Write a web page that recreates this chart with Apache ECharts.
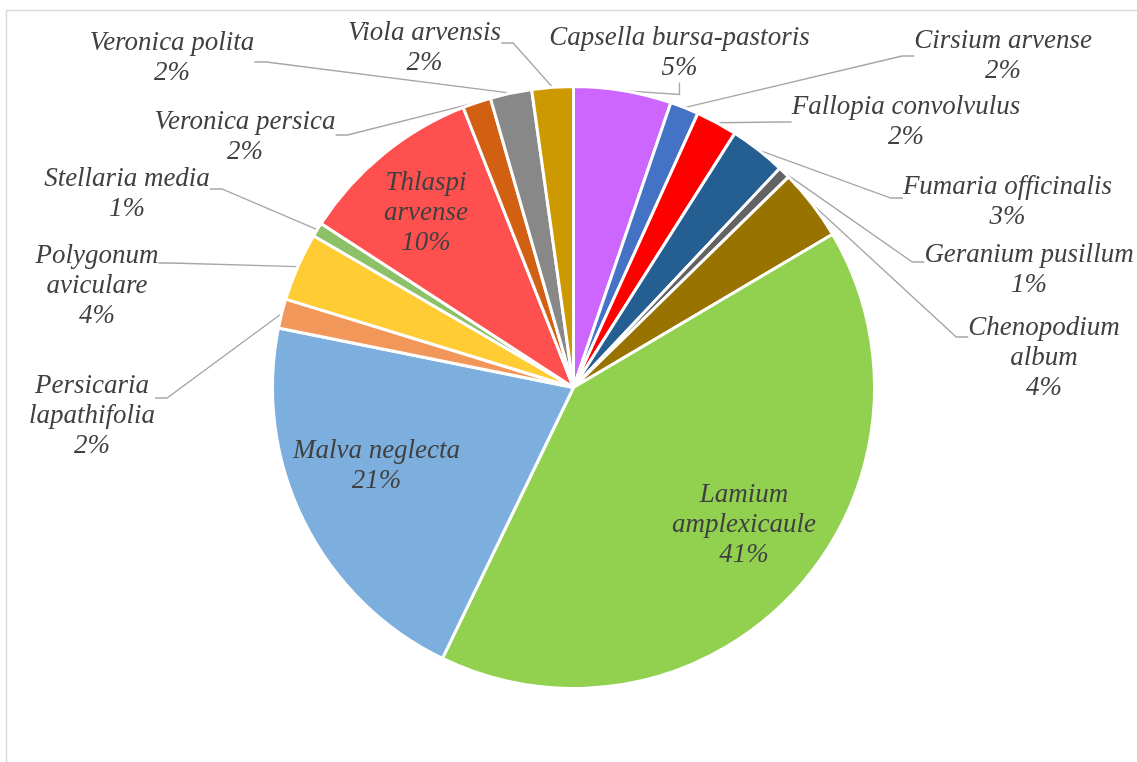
<!DOCTYPE html>
<html>
<head>
<meta charset="utf-8">
<script src="https://cdn.jsdelivr.net/npm/echarts@6/dist/echarts.min.js"></script>
<style>
  html, body { margin: 0; padding: 0; background: #ffffff; }
  #chart { width: 1137px; height: 762px; }
</style>
</head>
<body>
<div id="chart"></div>
<script>
// Weed species, clockwise from 12 o'clock
const species = [
  'Capsella bursa-pastoris', 'Cirsium arvense', 'Fallopia convolvulus',
  'Fumaria officinalis', 'Geranium pusillum', 'Chenopodium album',
  'Lamium amplexicaule', 'Malva neglecta', 'Persicaria lapathifolia',
  'Polygonum aviculare', 'Stellaria media', 'Thlaspi arvense',
  'Veronica persica', 'Veronica polita', 'Viola arvensis'
];

// Share of each species (%)
const shares = [
  5.24, 1.54, 2.22,
  3.02, 0.65, 3.83,
  40.67, 21.00, 1.57,
  3.67, 0.76, 9.86,
  1.52, 2.23, 2.22
];

const sliceColors = [
  '#CC66FF', '#4472C4', '#FF0000',
  '#255E91', '#636363', '#997300',
  '#92D050', '#7CAFDD', '#F1975A',
  '#FFCC33', '#8CC168', '#FF5050',
  '#D26012', '#888888', '#CC9900'
];

// Labels drawn on top of their own slice (no leader line)
const insideLabels = ['Lamium amplexicaule', 'Malva neglecta', 'Thlaspi arvense'];
// Names that wrap onto two lines in their label
const wrappedNames = ['Chenopodium album', 'Lamium amplexicaule', 'Persicaria lapathifolia',
                      'Polygonum aviculare', 'Thlaspi arvense'];

// Pie geometry
const CX = 573.5, CY = 387.5, R = 301;

// Label text-block centres, as offsets from the pie centre
const labelOffsets = [
  [106, -335], [429.5, -331.5], [332.5, -265.5],
  [434, -185.5], [455.5, -117.5], [470.5, -29.5],
  [170.5, 137.5], [-197, 78.5], [-481.5, 28.5],
  [-476.5, -101.5], [-446.5, -193.5], [-147.5, -175],
  [-328.5, -250.5], [-401.5, -329.5], [-149, -339.5]
];
// How far above the block centre the leader line meets the label (px, negative = below)
const leaderLift = [
  0, 0, 0,
  4, 8, 21,
  0, 0, 18,
  23, 5, 0,
  2, -4, 5
];

const chart = echarts.init(document.getElementById('chart'), null, { renderer: 'canvas' });

// An empty spacer line above (or below) the text moves the middle of the
// label box, which is where the leader line is attached.
function spacerHeight(i) {
  return 2 * Math.abs(leaderLift[i]);
}

const data = species.map((name, i) => {
  const inside = insideLabels.includes(name);
  return {
    name: name,
    value: shares[i],
    itemStyle: { color: sliceColors[i] },
    label: {
      position: inside ? 'inside' : 'outside',
      rich: { s: { fontSize: 1, lineHeight: Math.max(1, spacerHeight(i)) } }
    },
    labelLine: { show: !inside }
  };
});

chart.setOption({
  animation: false,
  backgroundColor: '#ffffff',
  graphic: [{
    type: 'rect',
    shape: { x: 6.5, y: 10.5, width: 1150, height: 780 },
    style: { fill: 'none', stroke: '#D9D9D9', lineWidth: 1.5 },
    silent: true
  }],
  series: [{
    type: 'pie',
    center: [CX, CY],
    radius: [0, R],
    startAngle: 90,
    clockwise: true,
    avoidLabelOverlap: false,
    percentPrecision: 2,
    emphasis: { disabled: true },
    itemStyle: { borderColor: '#ffffff', borderWidth: 3 },
    label: {
      show: true,
      fontFamily: 'Liberation Serif',
      fontStyle: 'italic',
      fontSize: 27,
      lineHeight: 30,
      color: '#404040',
      align: 'center',
      formatter: (p) => {
        const name = wrappedNames.includes(p.name) ? p.name.replace(' ', '\n') : p.name;
        let text = name + '\n' + Math.round(p.percent) + '%';
        const lift = leaderLift[p.dataIndex];
        if (lift > 0) text = '{s| }\n' + text;
        if (lift < 0) text = text + '\n{s| }';
        return text;
      }
    },
    labelLine: {
      show: true,
      length: 10,
      length2: 12,
      minTurnAngle: 0,
      lineStyle: { color: '#A6A6A6', width: 1.3 }
    },
    labelLayout: (params) => {
      const i = params.dataIndex;
      const o = labelOffsets[i];
      const lift = leaderLift[i];
      const shift = spacerHeight(i) / 2 * Math.sign(lift);
      return { x: CX + o[0], y: CY + o[1] - shift, align: 'center', verticalAlign: 'middle' };
    },
    data: data
  }]
});
</script>
</body>
</html>
